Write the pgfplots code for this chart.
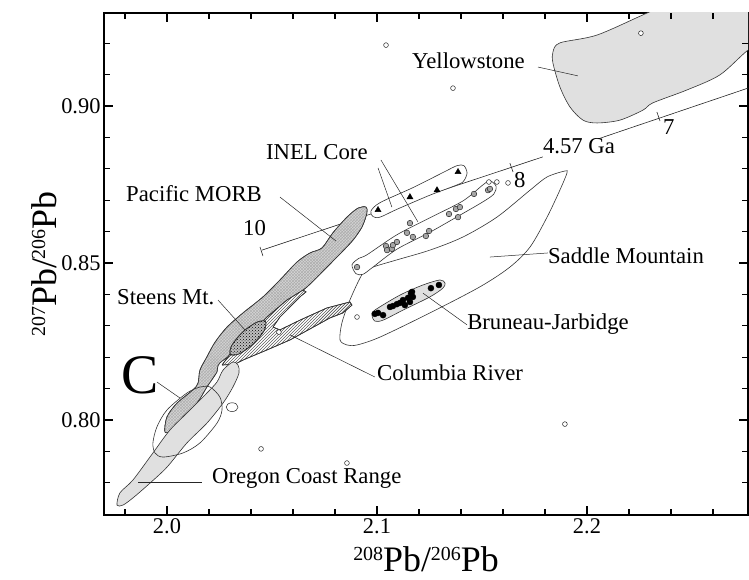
\documentclass[border=0pt]{standalone}
\usepackage{pgfplots}
\pgfplotsset{compat=1.18}
\usetikzlibrary{patterns}
\usepackage{fontspec}
\setmainfont{Liberation Serif}
\newcommand{\sups}[1]{\raisebox{11bp}{\fontsize{20}{20}\selectfont #1}}
\tikzset{lbl/.style={font=\fontsize{22.8}{24}\selectfont, anchor=base west, inner sep=0pt},
  ol/.style={draw=black!80, line width=0.6bp},
  tk/.style={black, line width=1.2bp}}
\begin{document}
\begin{tikzpicture}
\path[use as bounding box] (-104bp,-65bp) rectangle (645bp,515bp);
\begin{axis}[
  at={(0,0)}, anchor=south west, scale only axis, width=644bp, height=502bp,
  xmin=1.9700, xmax=2.2767, ymin=0.76975, ymax=0.92962,
  xtick={2.0,2.1,2.2}, xticklabels={2.0,2.1,2.2},
  ytick={0.80,0.85,0.90}, yticklabels={0.80,0.85,0.90},
  xtick pos=both, ytick pos=both,
  tick align=inside, major tick length=9bp,
  tick style={black, line width=1.2bp},
  axis line style={line width=1.3bp},
  ticklabel style={font=\fontsize{22.5}{24}\selectfont},
  /pgf/number format/assume math mode=true,
  xlabel={\sups{208}Pb/\sups{206}Pb},
  ylabel={\sups{207}Pb/\sups{206}Pb},
  xlabel style={at={(axis description cs:0.5,-0.1135)}, anchor=base, font=\fontsize{36}{40}\selectfont},
  ylabel style={at={(axis description cs:-0.0745,0.5)}, anchor=base, font=\fontsize{36}{40}\selectfont},
]
% Yellowstone
\addplot[smooth cycle, ol, fill=black!12] coordinates {
(2.1838,0.9172) (2.1871,0.9201) (2.2048,0.9226) (2.2286,0.9296) (2.2538,0.9369)
(2.2871,0.9369) (2.2871,0.9217) (2.2767,0.9178) (2.2633,0.9099) (2.2476,0.9051)
(2.2314,0.9010) (2.2267,0.8987) (2.2157,0.8955) (2.2048,0.8946) (2.1981,0.8955)
(2.1919,0.8997) (2.1871,0.9061) (2.1838,0.9137)};
% geochron
\addplot[black!85, line width=0.6bp] coordinates {(2.0452,0.8541) (2.1790,0.8838)};
\addplot[black!85, line width=0.6bp] coordinates {(2.2052,0.8895) (2.2767,0.9057)};
\addplot[black!85, line width=0.6bp] coordinates {(2.0443,0.8551) (2.0457,0.8522)};
\addplot[black!85, line width=0.6bp] coordinates {(2.1633,0.8818) (2.1648,0.8790)};
\addplot[black!85, line width=0.6bp] coordinates {(2.2333,0.8981) (2.2348,0.8952)};
% Saddle Mountain
\addplot[smooth cycle, ol] coordinates {
(2.1895,0.8793) (2.1905,0.8787) (2.1871,0.8732) (2.1810,0.8646) (2.1729,0.8551)
(2.1633,0.8487) (2.1490,0.8424) (2.1252,0.8341) (2.1014,0.8264) (2.0905,0.8239)
(2.0857,0.8239) (2.0824,0.8255) (2.0833,0.8309) (2.0871,0.8382) (2.0933,0.8468)
(2.0981,0.8487) (2.1095,0.8510) (2.1252,0.8541) (2.1410,0.8583) (2.1571,0.8646)
(2.1729,0.8732) (2.1810,0.8774)};
% Pacific MORB
\addplot[smooth cycle, ol, fill=black!17, postaction={pattern=crosshatch, pattern color=black!32}] coordinates {
(1.9990,0.7962) (2.0000,0.8010) (2.0048,0.8054) (2.0124,0.8096) (2.0148,0.8118)
(2.0157,0.8159) (2.0190,0.8201) (2.0229,0.8248) (2.0286,0.8296) (2.0362,0.8341)
(2.0457,0.8392) (2.0538,0.8446) (2.0619,0.8503) (2.0681,0.8532) (2.0738,0.8548)
(2.0790,0.8596) (2.0857,0.8646) (2.0910,0.8675) (2.0948,0.8678) (2.0952,0.8659)
(2.0929,0.8615) (2.0886,0.8573) (2.0833,0.8535) (2.0762,0.8487) (2.0667,0.8424)
(2.0571,0.8373) (2.0476,0.8309) (2.0371,0.8239) (2.0252,0.8182) (2.0238,0.8153)
(2.0190,0.8105) (2.0143,0.8054) (2.0076,0.8010) (2.0024,0.7968)};
% Columbia River
\addplot[ol, fill=white, postaction={pattern=north east lines, pattern color=black!80}] coordinates {
(2.0262,0.8175) (2.0314,0.8223) (2.0395,0.8271) (2.0476,0.8328) (2.0571,0.8382)
(2.0648,0.8414) (2.0662,0.8408) (2.0633,0.8392) (2.0538,0.8328) (2.0505,0.8296)
(2.0538,0.8287) (2.0633,0.8318) (2.0762,0.8357) (2.0871,0.8376) (2.0881,0.8366)
(2.0838,0.8341) (2.0776,0.8325) (2.0586,0.8255) (2.0476,0.8223) (2.0362,0.8191)
(2.0324,0.8178) (2.0262,0.8175)};
% Steens Mt.
\addplot[smooth cycle, ol, fill=black!25, postaction={pattern=crosshatch dots, pattern color=black}] coordinates {
(2.0469,0.8314) (2.0463,0.8285) (2.0412,0.8243) (2.0345,0.8211)
(2.0302,0.8209) (2.0308,0.8237) (2.0360,0.8280) (2.0426,0.8311)};
% Oregon Coast Range
\addplot[smooth cycle, ol, fill=black!12] coordinates {
(1.9762,0.7729) (1.9776,0.7768) (1.9838,0.7809) (1.9933,0.7895) (2.0014,0.7968)
(2.0110,0.8032) (2.0190,0.8086) (2.0238,0.8121) (2.0267,0.8159) (2.0314,0.8185)
(2.0338,0.8175) (2.0343,0.8150) (2.0314,0.8105) (2.0267,0.8054) (2.0190,0.7990)
(2.0095,0.7927) (2.0000,0.7850) (1.9919,0.7799) (1.9838,0.7752) (1.9790,0.7729)};
% C ellipse
\addplot[smooth cycle, ol] coordinates {
(2.0205,0.8105) (2.0252,0.8073) (2.0262,0.8032) (2.0238,0.7990) (2.0157,0.7927)
(2.0076,0.7895) (1.9981,0.7882) (1.9943,0.7895) (1.9933,0.7927) (1.9952,0.7978)
(2.0000,0.8032) (2.0095,0.8086) (2.0157,0.8105)};
% INEL triangle field
\addplot[smooth cycle, ol, fill=white] coordinates {
(2.0971,0.8665) (2.1014,0.8692) (2.1171,0.8740) (2.1314,0.8788) (2.1381,0.8810)
(2.1414,0.8810) (2.1429,0.8787) (2.1414,0.8762) (2.1386,0.8750) (2.1252,0.8716)
(2.1095,0.8671) (2.1014,0.8646) (2.0981,0.8648)};
% INEL circle field
\addplot[smooth cycle, ol, fill=white] coordinates {
(2.0881,0.8494) (2.0914,0.8515) (2.0952,0.8526) (2.1095,0.8590) (2.1252,0.8644)
(2.1410,0.8698) (2.1505,0.8749) (2.1538,0.8762) (2.1567,0.8745) (2.1557,0.8720)
(2.1505,0.8695) (2.1381,0.8647) (2.1252,0.8598) (2.1095,0.8544) (2.0981,0.8487)
(2.0933,0.8464) (2.0900,0.8466)};
% Bruneau-Jarbidge field
\addplot[smooth cycle, ol, fill=black!12] coordinates {
(2.0976,0.8334) (2.0990,0.8350) (2.1110,0.8398) (2.1219,0.8430) (2.1300,0.8446)
(2.1324,0.8436) (2.1314,0.8420) (2.1252,0.8392) (2.1124,0.8350) (2.1029,0.8318)
(2.0990,0.8315)};
% points
\addplot[only marks, mark=*, mark size=3bp, mark options={fill=black, draw=black}] coordinates {
(2.1005,0.8341) (2.1029,0.8334) (2.0990,0.8338) (2.1062,0.8360) (2.1076,0.8363)
(2.1095,0.8369) (2.1110,0.8373) (2.1124,0.8382) (2.1133,0.8366) (2.1148,0.8389)
(2.1162,0.8404) (2.1167,0.8408) (2.1171,0.8392) (2.1157,0.8376)
(2.1257,0.8420) (2.1295,0.8430)};
\addplot[only marks, mark=*, mark size=2.8bp, mark options={fill=black!35, draw=black!85, line width=0.5bp}] coordinates {
(2.0905,0.8487) (2.1043,0.8554) (2.1048,0.8541) (2.1071,0.8545) (2.1076,0.8557)
(2.1095,0.8567) (2.1143,0.8596) (2.1171,0.8583) (2.1157,0.8627) (2.1233,0.8586)
(2.1248,0.8602) (2.1343,0.8656) (2.1376,0.8672) (2.1386,0.8646) (2.1395,0.8678)
(2.1462,0.8720) (2.1529,0.8732) (2.1538,0.8736)};
\addplot[only marks, mark=triangle*, mark size=3.5bp, mark options={fill=black, draw=black}] coordinates {
(2.1005,0.8669) (2.1157,0.8710) (2.1286,0.8732) (2.1386,0.8790)};
\addplot[only marks, mark=*, mark size=2.4bp, mark options={fill=white, draw=black!85, line width=0.5bp}] coordinates {
(2.1043,0.9194) (2.1362,0.9057) (2.2257,0.9232) (2.0448,0.7908) (2.0857,0.7863)
(2.0905,0.8328) (2.1895,0.7987) (2.0533,0.8280) (2.1533,0.8758) (2.1571,0.8758)
(2.1624,0.8755)};
\addplot[only marks, mark=*, mark size=4.4bp, mark options={fill=white, draw=black!85, line width=0.5bp, xscale=1.35}] coordinates {(2.0310,0.8041)};
% leader lines
\draw[black!85, line width=0.5bp] (axis cs:2.1005,0.8803) -- (axis cs:2.1071,0.8678);
\draw[black!85, line width=0.5bp] (axis cs:2.1019,0.8828) -- (axis cs:2.1195,0.8631);
\draw[black!85, line width=0.5bp] (axis cs:2.0538,0.8710) -- (axis cs:2.0805,0.8570);
\draw[black!85, line width=0.5bp] (axis cs:2.1767,0.9124) -- (axis cs:2.1957,0.9096);
\draw[black!85, line width=0.5bp] (axis cs:2.1538,0.8519) -- (axis cs:2.1814,0.8532);
\draw[black!85, line width=0.5bp] (axis cs:2.1219,0.8404) -- (axis cs:2.1429,0.8303);
\draw[black!85, line width=0.5bp] (axis cs:2.0586,0.8271) -- (axis cs:2.0990,0.8137);
\draw[black!85, line width=0.5bp] (axis cs:2.0243,0.8382) -- (axis cs:2.0371,0.8287);
\draw[black!85, line width=0.5bp] (axis cs:1.9952,0.8121) -- (axis cs:2.0062,0.8070);
\draw[black!85, line width=0.5bp] (axis cs:1.9862,0.7803) -- (axis cs:2.0167,0.7803);
% minor and major ticks on all four sides
\pgfplotsinvokeforeach{1.98,2.02,2.04,2.06,2.08,2.12,2.14,2.16,2.18,2.22,2.24,2.26}{
  \draw[tk] (axis cs:#1,0.76975) -- (axis cs:#1,0.77166);
  \draw[tk] (axis cs:#1,0.92962) -- (axis cs:#1,0.92771);
}
\pgfplotsinvokeforeach{0.78,0.79,0.81,0.82,0.83,0.84,0.86,0.87,0.88,0.89,0.91,0.92}{
  \draw[tk] (axis cs:1.9700,#1) -- (axis cs:1.97286,#1);
  \draw[tk] (axis cs:2.2767,#1) -- (axis cs:2.27384,#1);
}
\pgfplotsinvokeforeach{2.0,2.1,2.2}{
  \draw[tk] (axis cs:#1,0.76975) -- (axis cs:#1,0.77262);
  \draw[tk] (axis cs:#1,0.92962) -- (axis cs:#1,0.92675);
}
\pgfplotsinvokeforeach{0.80,0.85,0.90}{
  \draw[tk] (axis cs:1.9700,#1) -- (axis cs:1.97429,#1);
  \draw[tk] (axis cs:2.2767,#1) -- (axis cs:2.27241,#1);
}
% labels
\node[lbl] at (axis cs:2.1167,0.9118) {Yellowstone};
\node[lbl] at (axis cs:2.1790,0.8850) {4.57 Ga};
\node[lbl] at (axis cs:2.2362,0.8908) {7};
\node[lbl] at (axis cs:2.1652,0.8742) {8};
\node[lbl] at (axis cs:2.0471,0.8831) {INEL Core};
\node[lbl] at (axis cs:1.9805,0.8697) {Pacific MORB};
\node[lbl] at (axis cs:2.0362,0.8589) {10};
\node[lbl] at (axis cs:1.9762,0.8369) {Steens Mt.};
\node[lbl, font=\fontsize{56}{60}\selectfont] at (axis cs:1.9781,0.8083) {C};
\node[lbl] at (axis cs:2.0214,0.7799) {Oregon Coast Range};
\node[lbl] at (axis cs:2.1814,0.8497) {Saddle Mountain};
\node[lbl] at (axis cs:2.1429,0.8287) {Bruneau-Jarbidge};
\node[lbl] at (axis cs:2.1000,0.8127) {Columbia River};
\end{axis}
\end{tikzpicture}
\end{document}
